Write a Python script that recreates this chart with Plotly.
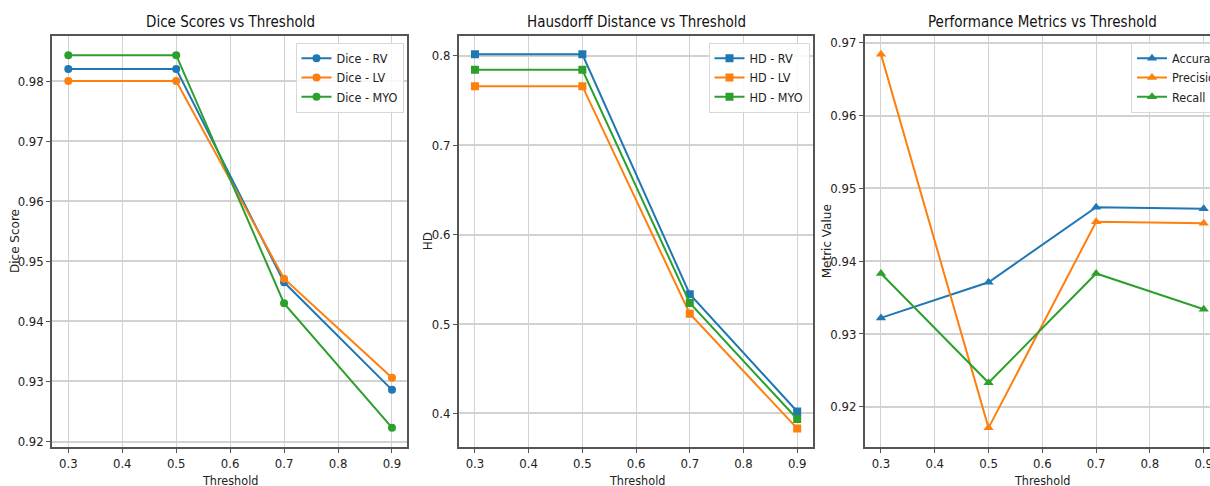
import plotly.graph_objects as go

# Threshold sweep results
thresholds = [0.3, 0.5, 0.7, 0.9]

dice_rv = [0.9820, 0.9820, 0.9465, 0.9286]
dice_lv = [0.9800, 0.9800, 0.9471, 0.9306]
dice_myo = [0.9843, 0.9843, 0.9430, 0.9223]

hd_rv = [0.8016, 0.8016, 0.5333, 0.4022]
hd_lv = [0.7660, 0.7660, 0.5115, 0.3832]
hd_myo = [0.7843, 0.7843, 0.5235, 0.3937]

accuracy = [0.9322, 0.9371, 0.9474, 0.9472]
precision = [0.9684, 0.9171, 0.9454, 0.9452]
recall = [0.9383, 0.9233, 0.9383, 0.9334]

x_ticks = [0.3, 0.4, 0.5, 0.6, 0.7, 0.8, 0.9]

BLUE, ORANGE, GREEN = "#1f77b4", "#ff7f0e", "#2ca02c"
W, H = 1210, 486
FONT = "DejaVu Sans Condensed, Liberation Sans Narrow, DejaVu Sans, sans-serif"
SPINE = "#555555"
GRID = "#d2d2d2"


def px_x(p):
    return p / W


def px_y(p):
    return 1 - p / H


fig = go.Figure()

panels = [
    dict(
        series=[("Dice - RV", dice_rv, BLUE), ("Dice - LV", dice_lv, ORANGE), ("Dice - MYO", dice_myo, GREEN)],
        symbol="circle", size=8, suffix="",
        left=52.3, right=407.3, xr=[0.2703, 0.9284], yr=[0.91917, 0.9875],
        yticks=[0.92, 0.93, 0.94, 0.95, 0.96, 0.97, 0.98],
        title="Dice Scores vs Threshold", ylabel="Dice Score",
        legend_x=403.5, legend_anchor="right", title_x=230, ylabel_x=15,
    ),
    dict(
        series=[("HD - RV", hd_rv, BLUE), ("HD - LV", hd_lv, ORANGE), ("HD - MYO", hd_myo, GREEN)],
        symbol="square", size=8, suffix="2",
        left=459, right=813.3, xr=[0.2703, 0.93], yr=[0.363, 0.8221],
        yticks=[0.4, 0.5, 0.6, 0.7, 0.8],
        title="Hausdorff Distance vs Threshold", ylabel="HD",
        legend_x=809.5, legend_anchor="right", title_x=636.7, ylabel_x=428.3,
    ),
    dict(
        series=[("Accuracy", accuracy, BLUE), ("Precision", precision, ORANGE), ("Recall", recall, GREEN)],
        symbol="triangle-up", size=9, suffix="3",
        left=865, right=1210, xr=[0.2703, 0.9117], yr=[0.91454, 0.97092],
        yticks=[0.92, 0.93, 0.94, 0.95, 0.96, 0.97],
        title="Performance Metrics vs Threshold", ylabel="Metric Value",
        legend_x=1131, legend_anchor="left", title_x=1042.3, ylabel_x=827.3,
    ),
]

top_px, bottom_px = 36, 446.5
annotations = []

for i, p in enumerate(panels):
    sfx = p["suffix"]
    legend_name = "legend" + sfx
    for name, vals, color in p["series"]:
        fig.add_trace(go.Scatter(
            x=thresholds, y=vals, name=name, mode="lines+markers",
            line=dict(color=color, width=2),
            marker=dict(symbol=p["symbol"], size=p["size"], color=color),
            xaxis="x" + sfx, yaxis="y" + sfx, legend=legend_name,
        ))

    last = i == len(panels) - 1
    fig.update_layout(**{
        "xaxis" + sfx: dict(
            domain=[px_x(p["left"]), px_x(p["right"])], range=p["xr"],
            anchor="y" + sfx, tickvals=x_ticks, ticktext=[f"{t:.1f}" for t in x_ticks],
            showgrid=True, gridcolor=GRID, gridwidth=1,
            showline=True, linecolor=SPINE, linewidth=2, mirror=True,
            ticks="outside", ticklen=4, tickcolor=SPINE, zeroline=False,
            ticklabeloverflow="allow",
            tickfont=dict(family=FONT, size=13, color="#222"),
        ),
        "yaxis" + sfx: dict(
            domain=[px_y(bottom_px), px_y(top_px)], range=p["yr"],
            anchor="x" + sfx, tickvals=p["yticks"],
            ticktext=[f"{t:g}" for t in p["yticks"]],
            showgrid=True, gridcolor=GRID, gridwidth=1.8,
            showline=True, linecolor=SPINE, linewidth=2, mirror=not last,
            ticks="outside", ticklen=4, tickcolor=SPINE, zeroline=False,
            tickfont=dict(family=FONT, size=13, color="#222"),
        ),
        legend_name: dict(
            x=px_x(p["legend_x"]), y=px_y(42.5), xanchor=p["legend_anchor"], yanchor="top",
            bgcolor="rgba(255,255,255,0.85)", bordercolor="#d8d8d8", borderwidth=1,
            font=dict(family=FONT, size=12.5, color="#222"),
            itemwidth=30, tracegroupgap=0,
        ),
    })

    annotations.append(dict(
        text=p["title"], x=px_x(p["title_x"]), y=px_y(22.5), xref="paper", yref="paper",
        showarrow=False, xanchor="center", yanchor="middle",
        font=dict(family=FONT, size=15, color="#111"),
    ))
    annotations.append(dict(
        text="Threshold", x=px_x(p["title_x"]), y=px_y(480), xref="paper", yref="paper",
        showarrow=False, xanchor="center", yanchor="middle",
        font=dict(family=FONT, size=12.5, color="#222"),
    ))
    annotations.append(dict(
        text=p["ylabel"], x=px_x(p["ylabel_x"]), y=px_y(241), xref="paper", yref="paper",
        showarrow=False, xanchor="center", yanchor="middle", textangle=-90,
        font=dict(family="DejaVu Sans, sans-serif", size=12, color="#222"),
    ))

fig.update_layout(
    width=W, height=H,
    margin=dict(l=0, r=0, t=0, b=0, pad=0, autoexpand=False),
    paper_bgcolor="white", plot_bgcolor="white",
    annotations=annotations,
    showlegend=True,
)

fig.write_html("out.html")
